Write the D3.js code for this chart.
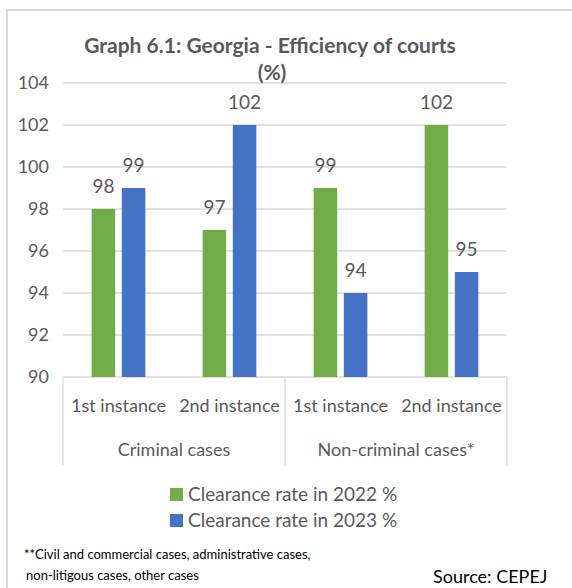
<!DOCTYPE html>
<meta charset="utf-8">
<head>
<script src="https://d3js.org/d3.v7.min.js"></script>
<style>
  body { margin: 0; background: #fff; }
  text { font-family: Lato, "Open Sans", sans-serif; }
</style>
</head>
<body>
<svg id="chart" width="572" height="588"></svg>
<script>
// data
var groups = ["Criminal cases", "Non-criminal cases*"];
var categories = ["Criminal cases|1st instance", "Criminal cases|2nd instance",
                  "Non-criminal cases*|1st instance", "Non-criminal cases*|2nd instance"];
var series = ["Clearance rate in 2022 %", "Clearance rate in 2023 %"];
var rate2022 = [98, 97, 99, 102];
var rate2023 = [99, 102, 94, 95];
var yTicks = [90, 92, 94, 96, 98, 100, 102, 104];
var colors = ["#70AD47", "#4472C4"];

var svg = d3.select("#chart");
var grey = "#595959";

// outer frame
svg.append("rect")
  .attr("x", 7).attr("y", 10)
  .attr("width", 580).attr("height", 600)
  .attr("fill", "none")
  .attr("stroke", "#d9d9d9")
  .attr("stroke-width", 2);

var plotLeft = 63, plotRight = 507, plotTop = 83, plotBottom = 377;

var y = d3.scaleLinear().domain([90, 104]).range([plotBottom, plotTop]);
var x0 = d3.scaleBand().domain(categories).range([plotLeft, plotRight]);
var x1 = d3.scaleBand().domain(series).range([0, x0.bandwidth()]).paddingInner(0.22).paddingOuter(0.95);

// grid
svg.append("g").selectAll("line")
  .data(yTicks)
  .enter().append("line")
  .attr("x1", plotLeft).attr("x2", plotRight)
  .attr("y1", function(d) { return y(d); })
  .attr("y2", function(d) { return y(d); })
  .attr("stroke", "#d9d9d9")
  .attr("stroke-width", 1.3);

// y labels
svg.append("g").selectAll("text")
  .data(yTicks)
  .enter().append("text")
  .attr("x", 49)
  .attr("y", function(d) { return y(d) + 6; })
  .attr("text-anchor", "end")
  .attr("font-size", 18)
  .attr("fill", grey)
  .text(function(d) { return d; });

// title
var title = svg.append("text")
  .attr("x", 270).attr("y", 53)
  .attr("text-anchor", "middle")
  .attr("font-size", 21)
  .attr("font-weight", "bold")
  .attr("fill", grey);
title.append("tspan").attr("x", 270).text("Graph 6.1: Georgia - Efficiency of courts");
title.append("tspan").attr("x", 272).attr("dy", 27).text("(%)");

// bars
var rows = categories.map(function(c, i) { return [rate2022[i], rate2023[i]]; });
var cat = svg.append("g").selectAll("g")
  .data(rows)
  .enter().append("g")
  .attr("transform", function(d, i) { return "translate(" + x0(categories[i]) + ",0)"; });

cat.selectAll("rect")
  .data(function(d) { return d; })
  .enter().append("rect")
  .attr("x", function(d, j) { return x1(series[j]); })
  .attr("width", x1.bandwidth())
  .attr("y", function(d) { return y(d); })
  .attr("height", function(d) { return plotBottom - y(d); })
  .attr("fill", function(d, j) { return colors[j]; });

cat.selectAll("text")
  .data(function(d) { return d; })
  .enter().append("text")
  .attr("x", function(d, j) { return x1(series[j]) + x1.bandwidth() / 2; })
  .attr("y", function(d) { return y(d) - 16; })
  .attr("text-anchor", "middle")
  .attr("font-size", 19)
  .attr("fill", grey)
  .text(function(d) { return d; });

// category axis lines
var sepX = [plotLeft, x0(categories[2]), plotRight];
svg.append("g").selectAll("line")
  .data(sepX)
  .enter().append("line")
  .attr("x1", function(d) { return d; }).attr("x2", function(d) { return d; })
  .attr("y1", plotBottom).attr("y2", 465)
  .attr("stroke", "#d9d9d9")
  .attr("stroke-width", 1.3);

// instance labels
svg.append("g").selectAll("text")
  .data(categories)
  .enter().append("text")
  .attr("x", function(d) { return x0(d) + x0.bandwidth() / 2; })
  .attr("y", 412)
  .attr("text-anchor", "middle")
  .attr("font-size", 18)
  .attr("fill", grey)
  .text(function(d) { return d.split("|")[1]; });

// group labels
svg.append("g").selectAll("text")
  .data(groups)
  .enter().append("text")
  .attr("x", function(d, i) { return (sepX[i] + sepX[i + 1]) / 2; })
  .attr("y", 456)
  .attr("text-anchor", "middle")
  .attr("font-size", 18)
  .attr("fill", grey)
  .text(function(d) { return d; });

// legend
var legend = svg.append("g").selectAll("g")
  .data(series)
  .enter().append("g")
  .attr("transform", function(d, i) { return "translate(170," + (488 + i * 26) + ")"; });
legend.append("rect")
  .attr("width", 13).attr("height", 13)
  .attr("fill", function(d, i) { return colors[i]; });
legend.append("text")
  .attr("x", 18).attr("y", 13)
  .attr("font-size", 19)
  .attr("fill", grey)
  .text(function(d) { return d; });

// footnote
svg.append("text")
  .attr("x", 24).attr("y", 559)
  .attr("font-size", 13)
  .attr("fill", "#000")
  .text("**Civil and commercial cases, administrative cases,");
svg.append("text")
  .attr("x", 26).attr("y", 580)
  .attr("font-size", 13)
  .attr("fill", "#000")
  .text("non-litigous cases, other cases");

svg.append("text")
  .attr("x", 433).attr("y", 583)
  .attr("font-size", 18)
  .attr("fill", "#000")
  .text("Source: CEPEJ");
</script>
</body>
